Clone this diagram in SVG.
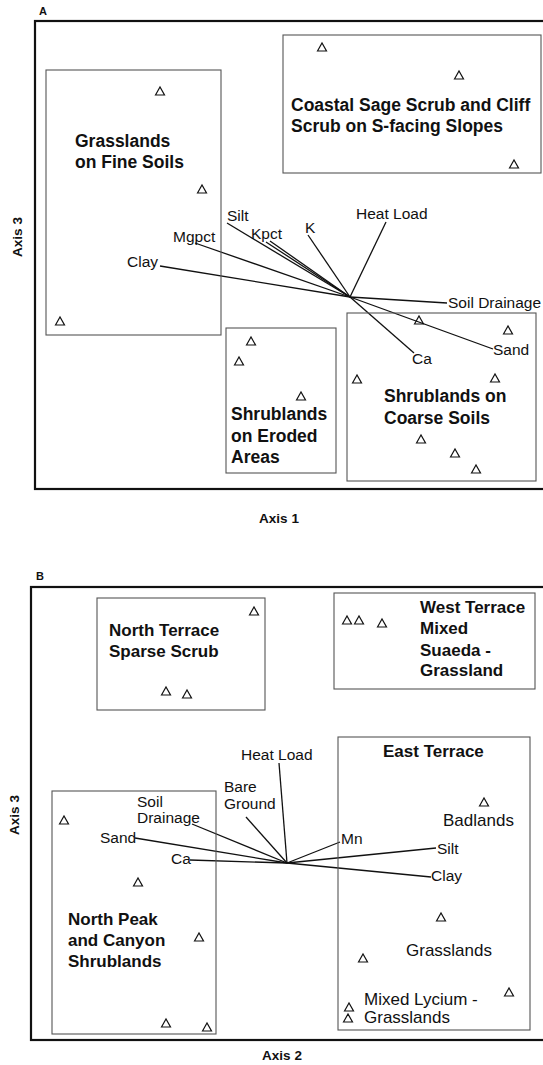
<svg xmlns="http://www.w3.org/2000/svg" xmlns:xlink="http://www.w3.org/1999/xlink" width="543" height="1065" viewBox="0 0 543 1065">
<style>
text{font-family:"Liberation Sans",Arial,sans-serif;fill:#111}
.frame{fill:none;stroke:#111;stroke-width:2.2}
.box{fill:none;stroke:#555;stroke-width:1.1}
.vec{stroke:#111;stroke-width:1.3;fill:none}
.lab{font-size:15.5px}
.grp{font-size:17.5px;font-weight:bold}
.grpb{font-size:17px;font-weight:bold}
.reg{font-size:17px}
.ax{font-size:13.5px;font-weight:bold}
.pl{font-size:11px;font-weight:bold}
.tri{fill:none;stroke:#111;stroke-width:1.2}
</style>
<defs>
<path id="t" class="tri" d="M-4.5,4 L0,-4 L4.5,4 Z"/>
</defs>
<rect width="543" height="1065" fill="#fff"/>

<g id="panelA">
<text class="pl" x="39" y="15">A</text>
<rect class="frame" x="35" y="21" width="512" height="468"/>
<text class="ax" text-anchor="middle" x="279" y="523">Axis 1</text>
<text class="ax" text-anchor="middle" transform="translate(22,237) rotate(-90)">Axis 3</text>
</g>

<g id="connectorsA">
<line class="vec" x1="350" y1="297" x2="227" y2="223"/>
<line class="vec" x1="350" y1="297" x2="266" y2="242"/>
<line class="vec" x1="350" y1="297" x2="270" y2="241"/>
<line class="vec" x1="350" y1="297" x2="308" y2="235"/>
<line class="vec" x1="350" y1="297" x2="386" y2="222"/>
<line class="vec" x1="350" y1="297" x2="195" y2="243"/>
<line class="vec" x1="350" y1="297" x2="160" y2="266"/>
<line class="vec" x1="350" y1="297" x2="447" y2="303"/>
<line class="vec" x1="350" y1="297" x2="493" y2="349"/>
<line class="vec" x1="350" y1="297" x2="414" y2="353"/>
</g>

<g id="vectorLabelsA">
<text class="lab" x="227" y="221">Silt</text>
<text class="lab" x="251" y="239">Kpct</text>
<text class="lab" x="305" y="233">K</text>
<text class="lab" x="356" y="219">Heat Load</text>
<text class="lab" x="173" y="242">Mgpct</text>
<text class="lab" x="127" y="267">Clay</text>
<text class="lab" x="448" y="308">Soil Drainage</text>
<text class="lab" x="493" y="355">Sand</text>
<text class="lab" x="412" y="364">Ca</text>
</g>

<g id="grasslandsFine">
<rect class="box" x="46" y="70" width="175" height="265"/>
<text class="grp" x="75" y="147">Grasslands</text>
<text class="grp" x="75" y="168">on Fine Soils</text>
<use xlink:href="#t" x="160" y="91"/>
<use xlink:href="#t" x="202" y="189"/>
<use xlink:href="#t" x="60" y="321"/>
</g>

<g id="coastalSage">
<rect class="box" x="283" y="35" width="258" height="138"/>
<text class="grp" x="291" y="111">Coastal Sage Scrub and Cliff</text>
<text class="grp" x="291" y="132">Scrub on S-facing Slopes</text>
<use xlink:href="#t" x="322" y="47"/>
<use xlink:href="#t" x="459" y="75"/>
<use xlink:href="#t" x="514" y="164"/>
</g>

<g id="shrublandsEroded">
<rect class="box" x="226" y="328" width="110" height="145"/>
<text class="grp" x="231" y="420">Shrublands</text>
<text class="grp" x="231" y="442">on Eroded</text>
<text class="grp" x="231" y="463">Areas</text>
<use xlink:href="#t" x="251" y="341"/>
<use xlink:href="#t" x="239" y="361"/>
<use xlink:href="#t" x="301" y="396"/>
</g>

<g id="shrublandsCoarse">
<rect class="box" x="347" y="313" width="189" height="168"/>
<text class="grp" x="384" y="402">Shrublands on</text>
<text class="grp" x="384" y="424">Coarse Soils</text>
<use xlink:href="#t" x="419" y="320"/>
<use xlink:href="#t" x="508" y="330"/>
<use xlink:href="#t" x="357" y="379"/>
<use xlink:href="#t" x="495" y="378"/>
<use xlink:href="#t" x="421" y="439"/>
<use xlink:href="#t" x="455" y="453"/>
<use xlink:href="#t" x="476" y="469"/>
</g>

<g id="panelB">
<text class="pl" x="36" y="580">B</text>
<rect class="frame" x="31" y="587" width="516" height="453"/>
<text class="ax" text-anchor="middle" x="282" y="1060">Axis 2</text>
<text class="ax" text-anchor="middle" transform="translate(19,815) rotate(-90)">Axis 3</text>
</g>

<g id="connectorsB">
<line class="vec" x1="287" y1="863" x2="279" y2="763"/>
<line class="vec" x1="287" y1="863" x2="246" y2="817"/>
<line class="vec" x1="287" y1="863" x2="192" y2="824"/>
<line class="vec" x1="287" y1="863" x2="135" y2="838"/>
<line class="vec" x1="287" y1="863" x2="190" y2="860"/>
<line class="vec" x1="287" y1="863" x2="340" y2="842"/>
<line class="vec" x1="287" y1="863" x2="436" y2="848"/>
<line class="vec" x1="287" y1="863" x2="431" y2="877"/>
</g>

<g id="vectorLabelsB">
<text class="lab" x="241" y="760">Heat Load</text>
<text class="lab" x="224" y="792">Bare</text>
<text class="lab" x="224" y="809">Ground</text>
<text class="lab" x="137" y="807">Soil</text>
<text class="lab" x="137" y="823">Drainage</text>
<text class="lab" x="100" y="843">Sand</text>
<text class="lab" x="171" y="864">Ca</text>
<text class="lab" x="341" y="844">Mn</text>
<text class="lab" x="437" y="854">Silt</text>
<text class="lab" x="431" y="881">Clay</text>
</g>

<g id="northTerrace">
<rect class="box" x="97" y="598" width="168" height="112"/>
<text class="grpb" x="109" y="636">North Terrace</text>
<text class="grpb" x="109" y="657">Sparse Scrub</text>
<use xlink:href="#t" x="254" y="611"/>
<use xlink:href="#t" x="166" y="691"/>
<use xlink:href="#t" x="187" y="694"/>
</g>

<g id="westTerrace">
<rect class="box" x="334" y="593" width="201" height="96"/>
<text class="grpb" x="420" y="613">West Terrace</text>
<text class="grpb" x="420" y="634">Mixed</text>
<text class="grpb" x="420" y="656">Suaeda -</text>
<text class="grpb" x="420" y="676">Grassland</text>
<use xlink:href="#t" x="347" y="620"/>
<use xlink:href="#t" x="359" y="620"/>
<use xlink:href="#t" x="382" y="623"/>
</g>

<g id="eastTerrace">
<rect class="box" x="338" y="737" width="192" height="293"/>
<text class="grpb" x="383" y="757">East Terrace</text>
<text class="reg" x="443" y="826">Badlands</text>
<text class="reg" x="406" y="956">Grasslands</text>
<text class="reg" x="364" y="1005">Mixed Lycium -</text>
<text class="reg" x="364" y="1023">Grasslands</text>
<use xlink:href="#t" x="484" y="802"/>
<use xlink:href="#t" x="441" y="917"/>
<use xlink:href="#t" x="363" y="958"/>
<use xlink:href="#t" x="509" y="992"/>
<use xlink:href="#t" x="349" y="1007"/>
<use xlink:href="#t" x="348" y="1018"/>
</g>

<g id="northPeak">
<rect class="box" x="52" y="791" width="164" height="243"/>
<text class="grpb" x="68" y="925">North Peak</text>
<text class="grpb" x="68" y="946">and Canyon</text>
<text class="grpb" x="68" y="967">Shrublands</text>
<use xlink:href="#t" x="64" y="820"/>
<use xlink:href="#t" x="138" y="882"/>
<use xlink:href="#t" x="199" y="937"/>
<use xlink:href="#t" x="166" y="1023"/>
<use xlink:href="#t" x="207" y="1027"/>
</g>
</svg>
